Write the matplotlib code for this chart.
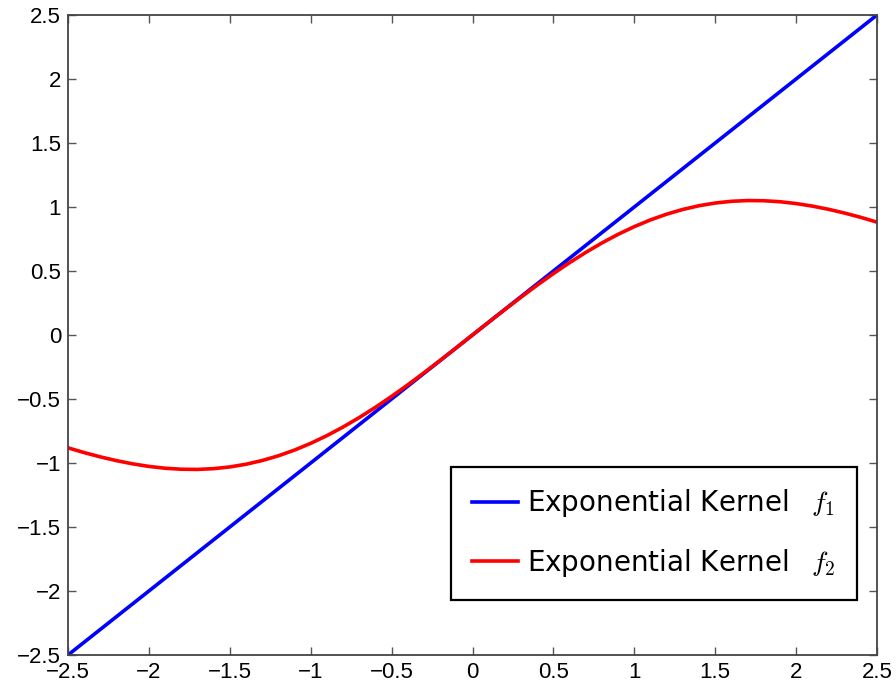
import matplotlib
matplotlib.use("Agg")
import matplotlib.pyplot as plt

# Sampled values of the two kernels on [-2.5, 2.5]
x_pos = [0.0, 0.1, 0.2, 0.3, 0.4, 0.5, 0.6, 0.7, 0.8, 0.9, 1.0,
         1.1, 1.2, 1.3, 1.4, 1.5, 1.6, 1.7, 1.8, 1.9, 2.0,
         2.1, 2.2, 2.3, 2.4, 2.5]
f2_pos = [0.0, 0.0998, 0.1987, 0.2955, 0.3895, 0.4796, 0.5651, 0.6451,
          0.7191, 0.7863, 0.8465, 0.8991, 0.9439, 0.9808, 1.0098, 1.0309,
          1.0443, 1.0503, 1.0488, 1.0410, 1.0268, 1.0069, 0.9819, 0.9524,
          0.9189, 0.8816]

# f2 is odd: mirror the positive half
f2_x = [-v for v in x_pos[:0:-1]] + x_pos
f2_y = [-v for v in f2_pos[:0:-1]] + f2_pos

f1_x = [-2.5, 2.5]
f1_y = [-2.5, 2.5]

ticks = [-2.5, -2, -1.5, -1, -0.5, 0, 0.5, 1, 1.5, 2, 2.5]
tick_labels = ["\u22122.5", "\u22122", "\u22121.5", "\u22121", "\u22120.5", "0",
               "0.5", "1", "1.5", "2", "2.5"]

plt.rcParams["font.family"] = ["Liberation Sans", "DejaVu Sans"]
plt.rcParams["mathtext.fontset"] = "cm"

fig = plt.figure(figsize=(8.96, 6.87), dpi=100)
ax = fig.add_axes([0.0759, 0.0466, 0.9029, 0.9316])

ax.plot(f1_x, f1_y, color="#0000ff", lw=2.6,
        label=r"Exponential Kernel $\;\;f_1$")
ax.plot(f2_x, f2_y, color="#ff0000", lw=2.6,
        label=r"Exponential Kernel $\;\;f_2$")

ax.set_xlim(-2.5, 2.5)
ax.set_ylim(-2.5, 2.5)
ax.set_xticks(ticks)
ax.set_xticklabels(tick_labels)
ax.set_yticks(ticks)
ax.set_yticklabels(tick_labels)
ax.tick_params(direction="in", length=6, width=1.0, color="#555555",
               top=True, right=True, labelsize=16)
ax.tick_params(axis="x", pad=5)
ax.tick_params(axis="y", pad=5)
for s in ax.spines.values():
    s.set_color("#444444")
    s.set_linewidth(1.3)

leg = ax.legend(loc="lower right", bbox_to_anchor=(0.975, 0.086),
                prop={"family": ["DejaVu Sans"], "size": 20},
                fancybox=False, framealpha=1,
                handlelength=1.65, handletextpad=0.35, borderpad=0.75,
                labelspacing=1.0, borderaxespad=0)
leg.get_frame().set_edgecolor("black")
leg.get_frame().set_linewidth(1.6)

fig.savefig("out.png", dpi=100)
